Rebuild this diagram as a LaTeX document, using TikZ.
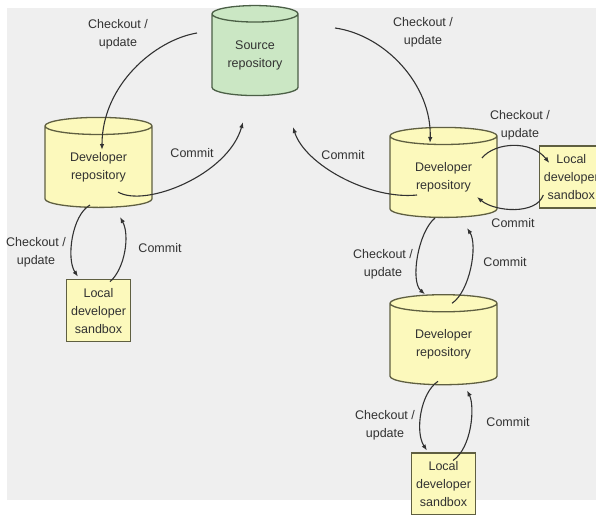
\documentclass[tikz,border=0pt]{standalone}
\usepackage{fontspec}
\setmainfont{Liberation Sans}
\usepackage{tikz}
\usetikzlibrary{arrows.meta,positioning,shapes.geometric,calc}
\definecolor{bggrey}{RGB}{239,239,239}
\definecolor{repoyellow}{RGB}{252,249,188}
\definecolor{repogreen}{RGB}{203,231,196}
\definecolor{edgeolive}{RGB}{95,95,65}
\definecolor{edgegreen}{RGB}{75,95,70}
\definecolor{inkgrey}{RGB}{50,50,50}

\begin{document}
\begin{tikzpicture}[x=1pt,y=-1pt,
  every node/.style={font=\fontsize{12.5}{18}\selectfont,text=inkgrey},
  repo/.style={cylinder,shape border rotate=90,aspect=0.3,draw=edgeolive,line width=1.3pt,
    cylinder uses custom fill,cylinder body fill=repoyellow,cylinder end fill=repoyellow,
    minimum width=107pt,minimum height=90pt,align=center,inner sep=0pt},
  source/.style={repo,draw=edgegreen,cylinder body fill=repogreen,cylinder end fill=repogreen,
    minimum width=86pt},
  sandbox/.style={draw=edgeolive,line width=1.3pt,fill=repoyellow,minimum width=64pt,
    minimum height=62pt,align=center,inner sep=0pt},
  note/.style={align=center,inner sep=0pt},
  arrow/.style={-{Latex[length=6pt,width=4.5pt]},line width=1.1pt,draw=inkgrey}
]
\clip (0,0) rectangle (596,514);
\fill[bggrey] (7,8) rectangle (596,500);
% repositories
\node[source] (src) at (255,55) {Source\\repository};
\node[repo] (devL) at (98.5,167) {Developer\\repository};
\node[repo] (devR) at (443.5,177) {Developer\\repository};
\node[repo,below=76pt of devR] (devB) {Developer\\repository};
% sandboxes
\node[sandbox,below=71pt of devL] (sbL) {Local\\developer\\sandbox};
\node[sandbox,right=41pt of devR] (sbR) {Local\\developer\\sandbox};
\node[sandbox,below=67pt of devB] (sbB) {Local\\developer\\sandbox};
% labels
\node[note] (coL) at (118,34) {Checkout /\\update};
\node[note] (cmL) at (192,153) {Commit};
\node[note] (coR) at (423,32) {Checkout /\\update};
\node[note] (cmR) at (343,155) {Commit};
\node[note] (coS) at (520,125) {Checkout /\\update};
\node[note] (cmS) at (513,223) {Commit};
\node[note] (coLL) at (36,252) {Checkout /\\update};
\node[note] (cmLL) at (160,248) {Commit};
\node[note] (coM) at (383,264) {Checkout /\\update};
\node[note] (cmM) at (505,262) {Commit};
\node[note] (coB) at (385,425) {Checkout /\\update};
\node[note] (cmB) at (508,422) {Commit};
% connectors
\draw[arrow] ($(src)+(-58,-22)$) .. controls +(-42,7) and +(0,-65) .. ($(devL)+(3.5,-17)$);
\draw[arrow] ($(devL)+(19.5,25)$) .. controls +(27,16) and +(-15,53) .. ($(src)+(-12,67)$);
\draw[arrow] ($(src)+(80,-27)$) .. controls +(50,7) and +(2,-58) .. ($(devR)+(-13.5,-34)$);
\draw[arrow] ($(devR)+(-26.5,18)$) .. controls +(-47,5) and +(12,38) .. ($(src)+(38,72)$);
\draw[arrow] ($(devR)+(38.5,-19)$) .. controls +(13,-16) and +(-18,-23) .. ($(sbR)+(-22,-14)$);
\draw[arrow] ($(sbR)+(-28,18)$) .. controls +(-7,20) and +(18,15) .. ($(devR)+(33.5,20)$);
\draw[arrow] ($(devR)+(-8.5,41)$) .. controls +(-17,14) and +(-15,-13) .. ($(devB)+(-18.5,-50)$);
\draw[arrow] ($(devB)+(8.5,-41)$) .. controls +(18,-12) and +(11,17) .. ($(devR)+(23.5,51)$);
\draw[arrow] ($(devB)+(-5.5,37)$) .. controls +(-18,12) and +(-12,-18) .. ($(sbB)+(-16.5,-33.5)$);
\draw[arrow] ($(sbB)+(9.5,-23.5)$) .. controls +(19,-13) and +(8,16) .. ($(devB)+(23.5,46)$);
\draw[arrow] ($(devL)+(-8.5,38)$) .. controls +(-18,10) and +(-12,-18) .. ($(sbL)+(-20.5,-34)$);
\draw[arrow] ($(sbL)+(11.5,-29)$) .. controls +(15,-13) and +(10,18) .. ($(devL)+(21.5,50)$);
\end{tikzpicture}
\end{document}
